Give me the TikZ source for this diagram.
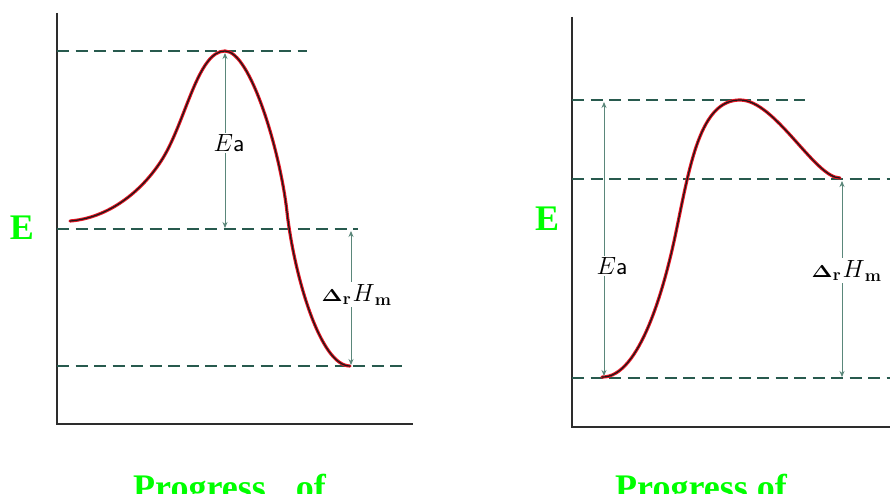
\documentclass[tikz,border=0pt]{standalone}
\usepackage[no-math]{fontspec}
\usetikzlibrary{arrows.meta}
\newfontfamily\tnr{Liberation Serif}
\definecolor{axisc}{RGB}{45,45,45}
\definecolor{dashc}{RGB}{40,90,78}
\definecolor{arrc}{RGB}{90,135,122}
\definecolor{lime}{RGB}{0,255,0}
\definecolor{curvered}{RGB}{230,20,35}
\newcommand{\drhm}{%
  \scalebox{1.3}[1]{\fontsize{17}{18}\selectfont$\mathbf{\Delta}$}%
  \raisebox{-3pt}{\fontsize{16}{16}\selectfont$\mathbf{r}$}%
  \hspace{2pt}{\fontsize{26}{27}\selectfont$H$}%
  \raisebox{-4pt}{\fontsize{18}{18}\selectfont$\mathbf{m}$}}
\tikzset{
  axisline/.style={draw=axisc, line width=1.8pt},
  levelline/.style={draw=dashc, line width=1.7pt, dash pattern=on 12pt off 6.5pt},
  energyarrow/.style={draw=arrc, line width=0.9pt, {Stealth[length=6pt,width=5pt,fill=black!80]}-{Stealth[length=6pt,width=5pt,fill=black!80]}},
  curveouter/.style={draw=curvered, line width=3.2pt, line cap=round},
  curveinner/.style={draw=black!90, line width=1.2pt, line cap=round},
  arrlabel/.style={fill=white, inner sep=1.5pt, font=\fontsize{25}{28}\selectfont},
  biglabel/.style={text=lime, font=\tnr\bfseries\fontsize{36}{40}\selectfont, inner sep=0pt},
}
\begin{document}
\begin{tikzpicture}[x=1pt,y=-1pt]
\useasboundingbox (0,0) rectangle (890,494);
\fill[white] (0,0) rectangle (890,494);
% ---------- left panel ----------
\coordinate (LO) at (57,424);
\coordinate (LT) at (57,13);
\coordinate (LX) at (413,424);
\draw[axisline] (LT) -- (LO) -- (LX);
\coordinate (L1a) at (57,51);  \coordinate (L1b) at (307,51);
\coordinate (L2a) at (57,229); \coordinate (L2b) at (358,229);
\coordinate (L3a) at (57,366); \coordinate (L3b) at (406,366);
\draw[levelline] (L1a) -- (L1b);
\draw[levelline] (L2a) -- (L2b);
\draw[levelline] (L3a) -- (L3b);
\coordinate (LS) at (70,221);
\coordinate (LPk) at (225,51);
\coordinate (LEnd) at (350,366);
\def\leftcurve{(LS) .. controls (108,218) and (142,192) .. (163,158)
  .. controls (186,120) and (198,51) .. (LPk)
  .. controls (250,51) and (280,150) .. (287,212)
  .. controls (294,274) and (320,366) .. (LEnd)}
\draw[curveouter] \leftcurve;
\draw[curveinner] \leftcurve;
\coordinate (LEaTop) at (225,53);
\coordinate (LEaBot) at (225,228);
\draw[energyarrow] (LEaTop) -- (LEaBot);
\node[arrlabel] (LEa) at (229,143) {$E$\textsf{a}};
\coordinate (LHTop) at (351,231);
\coordinate (LHBot) at (351,365);
\draw[energyarrow] (LHTop) -- (LHBot);
\node[fill=white, inner sep=1.5pt, anchor=base west] (LH) at (320,301) {\drhm};
\node[biglabel, anchor=base] (LE) at (22,240) {E};
\node[biglabel, anchor=base west] (LP) at (133,499) {Progress\hspace{30pt}of};
% ---------- right panel ----------
\coordinate (RO) at (572,427);
\coordinate (RT) at (572,17);
\coordinate (RX) at (892,427);
\draw[axisline] (RT) -- (RO) -- (RX);
\coordinate (R1a) at (572,100); \coordinate (R1b) at (805,100);
\coordinate (R2a) at (572,179); \coordinate (R2b) at (892,179);
\coordinate (R3a) at (572,378); \coordinate (R3b) at (892,378);
\draw[levelline] (R1a) -- (R1b);
\draw[levelline] (R2a) -- (R2b);
\draw[levelline] (R3a) -- (R3b);
\coordinate (RS) at (602,377);
\coordinate (RPk) at (740,100);
\coordinate (REnd) at (840,178);
\def\rightcurve{(RS) .. controls (640,378) and (665,285) .. (676,232)
  .. controls (690,165) and (700,100) .. (RPk)
  .. controls (775,100) and (815,178) .. (REnd)}
\draw[curveouter] \rightcurve;
\draw[curveinner] \rightcurve;
\coordinate (REaTop) at (604,102);
\coordinate (REaBot) at (604,376);
\draw[energyarrow] (REaTop) -- (REaBot);
\node[arrlabel] (REa) at (612,266) {$E$\textsf{a}};
\coordinate (RHTop) at (842,181);
\coordinate (RHBot) at (842,377);
\draw[energyarrow] (RHTop) -- (RHBot);
\node[fill=white, inner sep=1.5pt, anchor=base west] (RH) at (810,277) {\drhm};
\node[biglabel, anchor=base] (RE) at (547,230) {E};
\node[biglabel, anchor=base west] (RP) at (615,499) {Progress of};
\end{tikzpicture}
\end{document}
